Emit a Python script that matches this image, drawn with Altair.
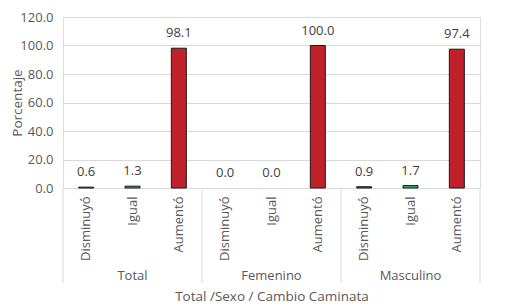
import altair as alt
import pandas as pd

groups = ["Total", "Femenino", "Masculino"]
cats = ["Disminuyó", "Igual", "Aumentó"]
values = [0.6, 1.3, 98.1, 0.0, 0.0, 100.0, 0.9, 1.7, 97.4]
colors = ["#595959", "#2fb36d", "#c0202a"]

rows = []
i = 0
for g in groups:
    for c in cats:
        rows.append({"group": g, "cat": c, "key": g + "|" + c, "value": values[i]})
        i += 1
df = pd.DataFrame(rows)
order = list(df["key"])

W, H = 417, 171
FONT = "Open Sans"
TXT = "#595959"

xscale = alt.Scale(domain=order, paddingInner=0, paddingOuter=0)
xaxis = alt.Axis(title="Total /Sexo / Cambio Caminata", labelExpr="split(datum.label, '|')[1]",
                 labelAngle=-90, labelPadding=8, ticks=False, domainColor="#d9d9d9",
                 labelFontSize=13, labelColor=TXT, labelFont=FONT,
                 titleFont=FONT, titleFontSize=13.5, titleColor=TXT, titleFontWeight="normal",
                 titlePadding=29, grid=False)
yscale = alt.Scale(domain=[0, 120])
yaxis = alt.Axis(title="Porcentaje", values=[0, 20, 40, 60, 80, 100, 120], format=".1f",
                 ticks=False, domain=False, gridColor="#d9d9d9", labelPadding=10,
                 labelOverlap=False,
                 labelFontSize=13, labelColor=TXT, labelFont=FONT,
                 titleFont=FONT, titleFontSize=13.5, titleColor=TXT, titleFontWeight="normal",
                 titleX=-39)


def X(**kw):
    return alt.X("key:N", sort=order, scale=xscale, axis=xaxis, **kw)


bars = alt.Chart(df).mark_bar(size=15, stroke="#1a1a1a", strokeWidth=1).encode(
    x=X(),
    y=alt.Y("value:Q", scale=yscale, axis=yaxis),
    color=alt.Color("cat:N", scale=alt.Scale(domain=cats, range=colors), legend=None),
    strokeOpacity=alt.condition("datum.value > 0", alt.value(1), alt.value(0)),
)

labels = alt.Chart(df).mark_text(dy=-8, font=FONT, fontSize=13, color="#404040", baseline="bottom").encode(
    x=X(),
    y=alt.Y("value:Q", scale=yscale, axis=yaxis),
    text=alt.Text("value:Q", format=".1f"),
)

gdf = pd.DataFrame({"group": groups, "key": [g + "|Igual" for g in groups]})
glabels = alt.Chart(gdf).mark_text(font=FONT, fontSize=13, color=TXT).encode(
    x=X(),
    y=alt.value(259),
    text="group:N",
)

ldf = pd.DataFrame({"key": [g + "|Disminuyó" for g in groups]})
lrules = alt.Chart(ldf).mark_rule(color="#d9d9d9", strokeWidth=1).encode(
    x=X(bandPosition=0),
    y=alt.value(H), y2=alt.value(266),
)
rdf = pd.DataFrame({"key": [groups[-1] + "|Aumentó"]})
rrules = alt.Chart(rdf).mark_rule(color="#d9d9d9", strokeWidth=1).encode(
    x=X(bandPosition=1),
    y=alt.value(H), y2=alt.value(266),
)

chart = alt.layer(bars, labels, glabels, lrules, rrules).properties(
    width=W, height=H,
    autosize=alt.AutoSizeParams(type="none"),
    padding={"left": 55, "top": 9, "right": 18, "bottom": 119},
).configure_view(stroke=None).configure(background="white")

chart.save("out.html", embed_options={"renderer": "svg", "actions": False})
